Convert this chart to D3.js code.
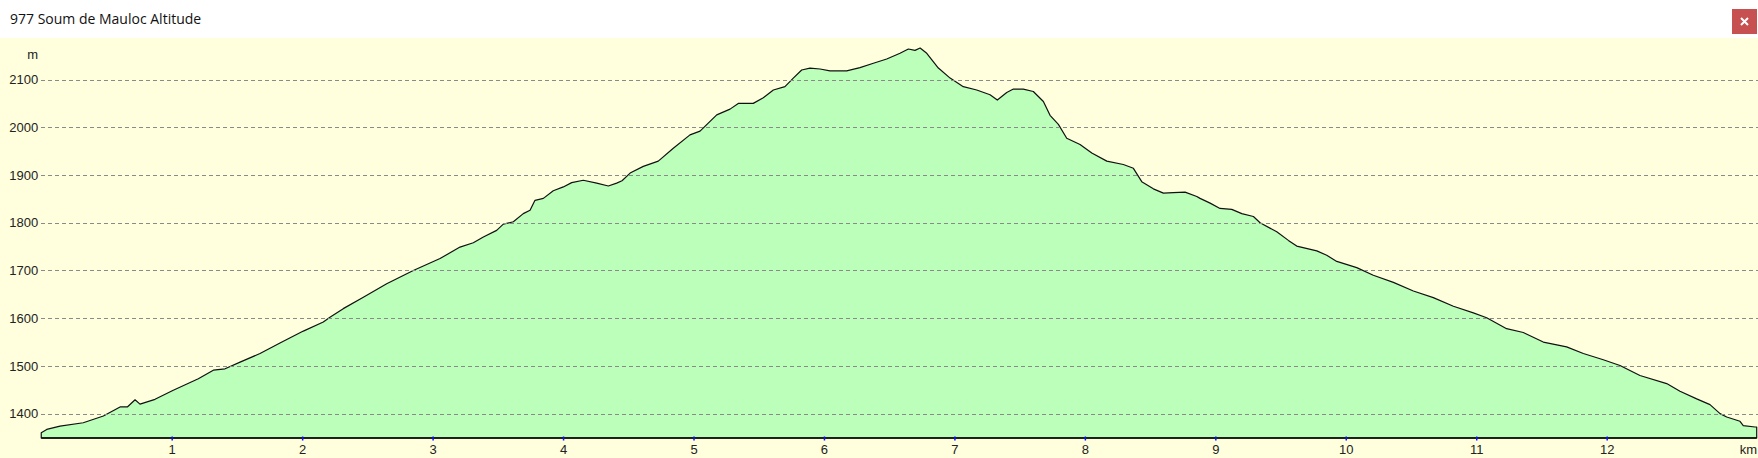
<!DOCTYPE html>
<html><head><meta charset="utf-8">
<script src="https://cdn.jsdelivr.net/npm/d3@7"></script>
<style>
html,body{margin:0;padding:0;background:#fff;overflow:hidden}
svg{display:block}
</style></head>
<body>
<svg id="c" width="1758" height="458"></svg>
<script>
const title = "977 Soum de Mauloc Altitude";
const yUnit = "m";
const xUnit = "km";
const yTicks = [1400, 1500, 1600, 1700, 1800, 1900, 2000, 2100];
const xTicks = [1, 2, 3, 4, 5, 6, 7, 8, 9, 10, 11, 12];
const yDomain = [1349, 2187];
const xDomain = [0, 13.15];
const distanceKm = [0, 0.042, 0.144, 0.322, 0.476, 0.604, 0.66, 0.719, 0.757, 0.872, 1.012, 1.204, 1.319, 1.409, 1.524, 1.677, 1.83, 2.009, 2.162, 2.213, 2.315, 2.469, 2.648, 2.852, 3.057, 3.21, 3.312, 3.389, 3.491, 3.542, 3.619, 3.695, 3.747, 3.785, 3.849, 3.925, 4.002, 4.066, 4.155, 4.258, 4.347, 4.411, 4.452, 4.514, 4.615, 4.73, 4.845, 4.973, 5.05, 5.178, 5.28, 5.343, 5.458, 5.535, 5.612, 5.701, 5.765, 5.829, 5.893, 5.97, 6.046, 6.174, 6.276, 6.379, 6.481, 6.583, 6.647, 6.698, 6.737, 6.788, 6.877, 6.967, 7.068, 7.171, 7.273, 7.329, 7.401, 7.452, 7.528, 7.605, 7.682, 7.733, 7.797, 7.861, 7.963, 8.053, 8.168, 8.295, 8.372, 8.436, 8.525, 8.602, 8.678, 8.768, 8.858, 8.883, 8.96, 9.036, 9.126, 9.203, 9.292, 9.343, 9.471, 9.56, 9.624, 9.778, 9.854, 9.931, 10.084, 10.211, 10.365, 10.518, 10.671, 10.825, 10.978, 11.08, 11.233, 11.361, 11.514, 11.693, 11.821, 11.974, 12.102, 12.255, 12.46, 12.562, 12.69, 12.792, 12.869, 12.92, 13.022, 13.047, 13.137, 13.15];
const altitudeM = [1360, 1367, 1374, 1381, 1395, 1414, 1414, 1429, 1420, 1430, 1449, 1473, 1491, 1494, 1508, 1526, 1548, 1573, 1592, 1602, 1620, 1644, 1672, 1700, 1725, 1749, 1758, 1770, 1784, 1797, 1802, 1819, 1826, 1847, 1851, 1867, 1875, 1884, 1889, 1883, 1877, 1883, 1888, 1904, 1918, 1929, 1956, 1984, 1992, 2026, 2038, 2050, 2050, 2062, 2078, 2085, 2103, 2120, 2124, 2122, 2118, 2118, 2125, 2134, 2143, 2155, 2164, 2161, 2166, 2155, 2124, 2103, 2085, 2078, 2068, 2057, 2073, 2080, 2080, 2075, 2054, 2025, 2006, 1977, 1964, 1946, 1929, 1922, 1914, 1886, 1871, 1862, 1863, 1864, 1855, 1851, 1841, 1830, 1828, 1819, 1813, 1800, 1781, 1763, 1751, 1741, 1732, 1719, 1706, 1690, 1675, 1657, 1643, 1625, 1611, 1601, 1578, 1570, 1550, 1540, 1526, 1513, 1501, 1480, 1463, 1447, 1431, 1419, 1400, 1393, 1384, 1375, 1372, 1372];

const svg = d3.select("#c");
const W = 1758, H = 458;
const headerH = 38;
const plot = {left: 41.25, right: 1756.7, top: 38, bottom: 438};

// header
svg.append("rect").attr("x",0).attr("y",0).attr("width",W).attr("height",headerH).attr("fill","#ffffff");
svg.append("text").attr("x",10).attr("y",24).attr("font-family","'Open Sans', 'Noto Sans', sans-serif")
  .attr("font-size",14).attr("fill","#111").text(title);
const cb = svg.append("g").attr("transform","translate(1732,9)");
cb.append("rect").attr("width",25).attr("height",25).attr("fill","#c75050");
cb.append("path").attr("d","M9,9L16,16M16,9L9,16").attr("stroke","#fff").attr("stroke-width",2);

// chart bg
svg.append("rect").attr("x",0).attr("y",headerH).attr("width",W).attr("height",H-headerH).attr("fill","#ffffdd");

const x = d3.scaleLinear().domain(xDomain).range([plot.left, plot.right]);
const y = d3.scaleLinear().domain(yDomain).range([plot.bottom, plot.top]);

const data = distanceKm.map((d,i)=>({d, a: altitudeM[i]}));

// area
const area = d3.area().x(p=>x(p.d)).y0(y(yDomain[0])).y1(p=>y(p.a));
svg.append("path").datum(data).attr("d",area).attr("fill","#bbffbb").attr("stroke","#111").attr("stroke-width",1.2).attr("stroke-linejoin","round");

// y grid + labels
const yAxis = d3.axisLeft(y).tickValues(yTicks).tickSize(-(W - plot.left)).tickPadding(3).tickFormat(d3.format("d"));
const gy = svg.append("g").attr("transform",`translate(${plot.left},0)`).call(yAxis);
gy.select(".domain").remove();
gy.selectAll(".tick line").attr("stroke","#8a8a8a").attr("stroke-dasharray","4,3").attr("shape-rendering","crispEdges");
gy.selectAll(".tick text").attr("font-family","'Liberation Sans', Arial, sans-serif").attr("font-size",13).attr("fill","#222");

// x axis
svg.append("line").attr("x1",plot.left).attr("x2",plot.right).attr("y1",plot.bottom).attr("y2",plot.bottom)
  .attr("stroke","#000").attr("stroke-width",1.5);
const xAxis = d3.axisBottom(x).tickValues(xTicks).tickSize(4).tickPadding(4).tickFormat(d3.format("d"));
const gx = svg.append("g").attr("transform",`translate(0,${plot.bottom-1.5})`).call(xAxis);
gx.select(".domain").remove();
gx.selectAll(".tick line").attr("stroke","#1010ff").attr("stroke-width",1.5);
gx.selectAll(".tick text").attr("font-family","'Liberation Sans', Arial, sans-serif").attr("font-size",13).attr("fill","#222");

svg.append("text").attr("x",38).attr("y",59).attr("text-anchor","end").attr("font-family","'Liberation Sans', Arial, sans-serif").attr("font-size",13).attr("fill","#222").text(yUnit);
svg.append("text").attr("x",1757).attr("y",454).attr("text-anchor","end").attr("font-family","'Liberation Sans', Arial, sans-serif").attr("font-size",13).attr("fill","#222").text(xUnit);
</script>
</body></html>
